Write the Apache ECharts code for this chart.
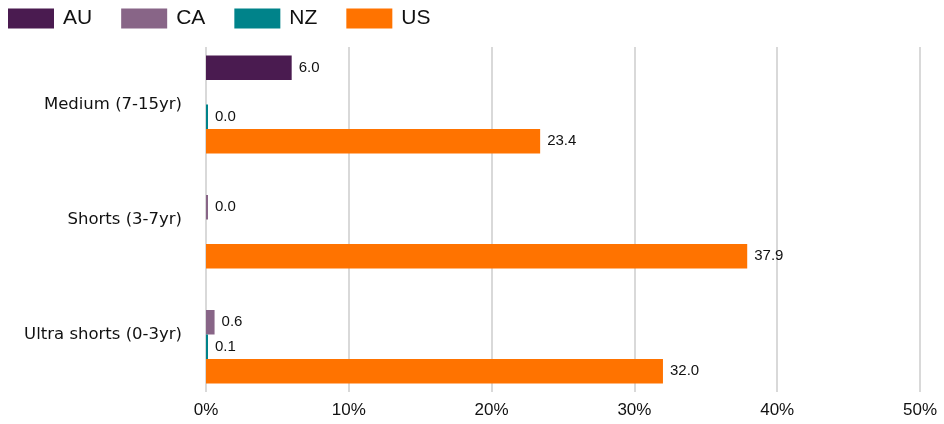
<!DOCTYPE html>
<html>
<head>
<meta charset="utf-8">
<script src="https://cdn.jsdelivr.net/npm/echarts@6/dist/echarts.min.js"></script>
<style>
  html, body { margin: 0; padding: 0; background: #fff; }
  #main { width: 944px; height: 424px; }
</style>
</head>
<body>
<div id="main"></div>
<script>
let mychart = echarts.init(document.getElementById('main'));

// categories, top to bottom
let categories = ['Medium (7-15yr)', 'Shorts (3-7yr)', 'Ultra shorts (0-3yr)']
let seriesNames = ['AU', 'CA', 'NZ', 'US']
let colors = ['#4A1B50', '#886587', '#00838A', '#FF7300']

// % share, null = no bar
let auValues = [6.0, null, null]
let caValues = [null, 0.0, 0.6]
let nzValues = [0.0, null, 0.1]
let usValues = [23.4, 37.9, 32.0]

let allValues = [auValues, caValues, nzValues, usValues]

let font = 'Arial, "Liberation Sans", sans-serif'

let series = seriesNames.map(function (name, i) {
    return {
        name: name,
        type: 'bar',
        data: allValues[i],
        barWidth: 24.5,
        barGap: '0%',
        barMinHeight: 2,
        itemStyle: { color: colors[i] },
        label: {
            show: true,
            position: 'right',
            distance: 7,
            color: '#111',
            fontSize: 15,
            fontFamily: font,
            formatter: function (p) {
                return p.value == null ? '' : Number(p.value).toFixed(1)
            }
        }
    }
})

let option = {
    animation: false,
    color: colors,
    legend: {
        left: 8,
        top: 8,
        padding: 0,
        itemWidth: 46,
        itemHeight: 20,
        itemGap: 29,
        icon: 'rect',
        data: seriesNames,
        textStyle: {
            fontSize: 21,
            color: '#111',
            fontFamily: font,
            padding: [0, 0, 0, 4]
        }
    },
    grid: {
        left: 206,
        right: 24,
        top: 47,
        bottom: 32,
        containLabel: false
    },
    xAxis: {
        type: 'value',
        min: 0,
        max: 50,
        interval: 10,
        axisLine: { show: false },
        axisTick: { show: false },
        splitLine: { lineStyle: { color: '#d9d9d9', width: 2 } },
        axisLabel: {
            formatter: '{value}%',
            fontSize: 17,
            color: '#111',
            fontFamily: font,
            margin: 10
        }
    },
    yAxis: {
        type: 'category',
        data: categories,
        inverse: true,
        axisLine: { show: false },
        axisTick: { show: false },
        axisLabel: {
            fontSize: 16.5,
            color: '#111',
            fontFamily: '"DejaVu Sans", sans-serif',
            margin: 24
        }
    },
    series: series
};
mychart.setOption(option);
</script>
</body>
</html>
